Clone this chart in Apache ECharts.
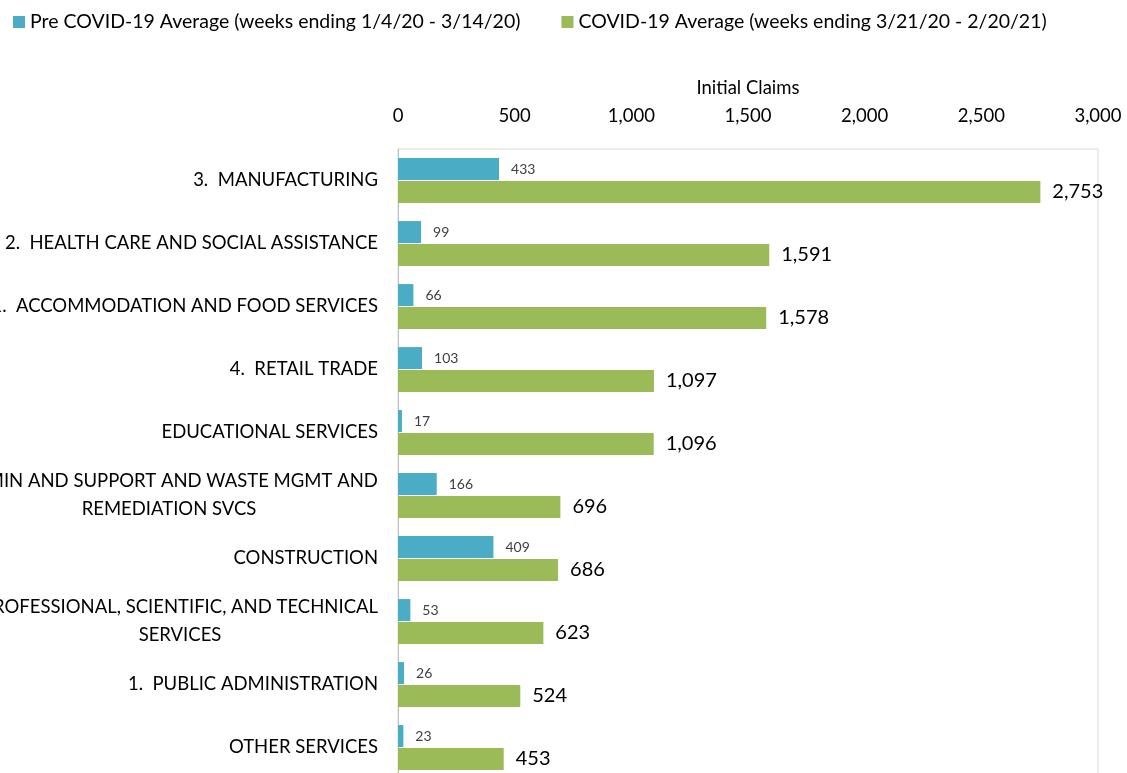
<!DOCTYPE html>
<html>
<head>
<meta charset="utf-8">
<script src="https://cdn.jsdelivr.net/npm/echarts@6/dist/echarts.min.js"></script>
<style>
    html, body { margin: 0; padding: 0; background: #fff; }
    #myChart { width: 1127px; height: 773px; }
</style>
</head>
<body>
<div id="myChart"></div>
<script>
// 行业分类
var categories = [
    '3.  MANUFACTURING',
    '2.  HEALTH CARE AND SOCIAL ASSISTANCE',
    '1.  ACCOMMODATION AND FOOD SERVICES',
    '4.  RETAIL TRADE',
    'EDUCATIONAL SERVICES',
    'ADMIN AND SUPPORT AND WASTE MGMT AND\nREMEDIATION SVCS',
    'CONSTRUCTION',
    'PROFESSIONAL, SCIENTIFIC, AND TECHNICAL\nSERVICES',
    '1.  PUBLIC ADMINISTRATION',
    'OTHER SERVICES'
];
var preCovid = [433, 99, 66, 103, 17, 166, 409, 53, 26, 23];
var covid = [2753, 1591, 1578, 1097, 1096, 696, 686, 623, 524, 453];
var xTicks = [0, 500, 1000, 1500, 2000, 2500, 3000];
var legend = ['Pre COVID-19 Average (weeks ending 1/4/20 - 3/14/20)', 'COVID-19 Average (weeks ending 3/21/20 - 2/20/21)'];

var fontFamily = 'Lato, "Open Sans", sans-serif';
var labelSize = 18.5;

var fmt = function (v) {
    return Number(v).toLocaleString('en-US');
};

// 多行标签居中显示
var ctx = document.createElement('canvas').getContext('2d');
ctx.font = labelSize + 'px ' + fontFamily;
var lineWidth = function (value) {
    var w = 0;
    value.split('\n').forEach(function (l) {
        w = Math.max(w, ctx.measureText(l).width);
    });
    return Math.round(w);
};
var catFormatter = function (value) {
    var lines = value.split('\n');
    if (lines.length === 1) {
        return value;
    }
    var key = 'c' + lineWidth(value);
    return lines.map(function (l) {
        return '{' + key + '|' + l + '}';
    }).join('\n');
};
var rich = {};
categories.forEach(function (c) {
    if (c.indexOf('\n') > -1) {
        var w = lineWidth(c);
        rich['c' + w] = {
            width: w,
            align: 'center',
            fontSize: labelSize,
            fontFamily: fontFamily,
            color: '#000',
            lineHeight: 28
        };
    }
});

var myChart = echarts.init(document.getElementById('myChart'), null, {renderer: 'canvas'}),
    option = {
        backgroundColor: '#fff',
        animation: false,
        textStyle: {
            fontFamily: fontFamily
        },
        legend: {
            data: legend,
            left: 8,
            top: 7,
            itemWidth: 12,
            itemHeight: 12,
            itemGap: 41,
            icon: 'rect',
            textStyle: {
                fontSize: 19.5,
                color: '#000',
                fontFamily: fontFamily
            }
        },
        grid: {
            left: 398,
            top: 149,
            width: 700,
            height: 630,
            show: true,
            borderColor: '#d9d9d9',
            borderWidth: 1,
            containLabel: false,
            outerBoundsMode: 'none'
        },
        xAxis: {
            type: 'value',
            position: 'top',
            min: xTicks[0],
            max: xTicks[xTicks.length - 1],
            interval: 500,
            name: 'Initial Claims',
            nameLocation: 'middle',
            nameGap: 51,
            nameTextStyle: {
                fontSize: 18.5,
                color: '#000',
                fontFamily: fontFamily
            },
            axisLine: {show: false},
            axisTick: {show: false},
            splitLine: {show: false},
            axisLabel: {
                margin: 23,
                fontSize: 18.5,
                color: '#000',
                fontFamily: fontFamily,
                formatter: fmt
            }
        },
        yAxis: {
            type: 'category',
            inverse: true,
            data: categories,
            axisLine: {show: true, lineStyle: {color: '#bfbfbf', width: 1}},
            axisTick: {show: false},
            axisLabel: {
                margin: 20,
                fontSize: labelSize,
                color: '#000',
                fontFamily: fontFamily,
                lineHeight: 28,
                formatter: catFormatter,
                rich: rich
            }
        },
        series: [
            {
                name: legend[0],
                type: 'bar',
                data: preCovid,
                barWidth: 22,
                barGap: '4%',
                barCategoryGap: '30%',
                itemStyle: {color: '#4bacc6'},
                label: {
                    show: true,
                    position: 'right',
                    distance: 12,
                    fontSize: 14,
                    color: '#404040',
                    fontFamily: fontFamily,
                    formatter: function (p) { return fmt(p.value); }
                }
            },
            {
                name: legend[1],
                type: 'bar',
                data: covid,
                barWidth: 22,
                itemStyle: {color: '#9bbb59'},
                label: {
                    show: true,
                    position: 'right',
                    distance: 12,
                    fontSize: 20,
                    color: '#000',
                    fontFamily: fontFamily,
                    formatter: function (p) { return fmt(p.value); }
                }
            }
        ]
    };
myChart.setOption(option);
</script>
</body>
</html>
